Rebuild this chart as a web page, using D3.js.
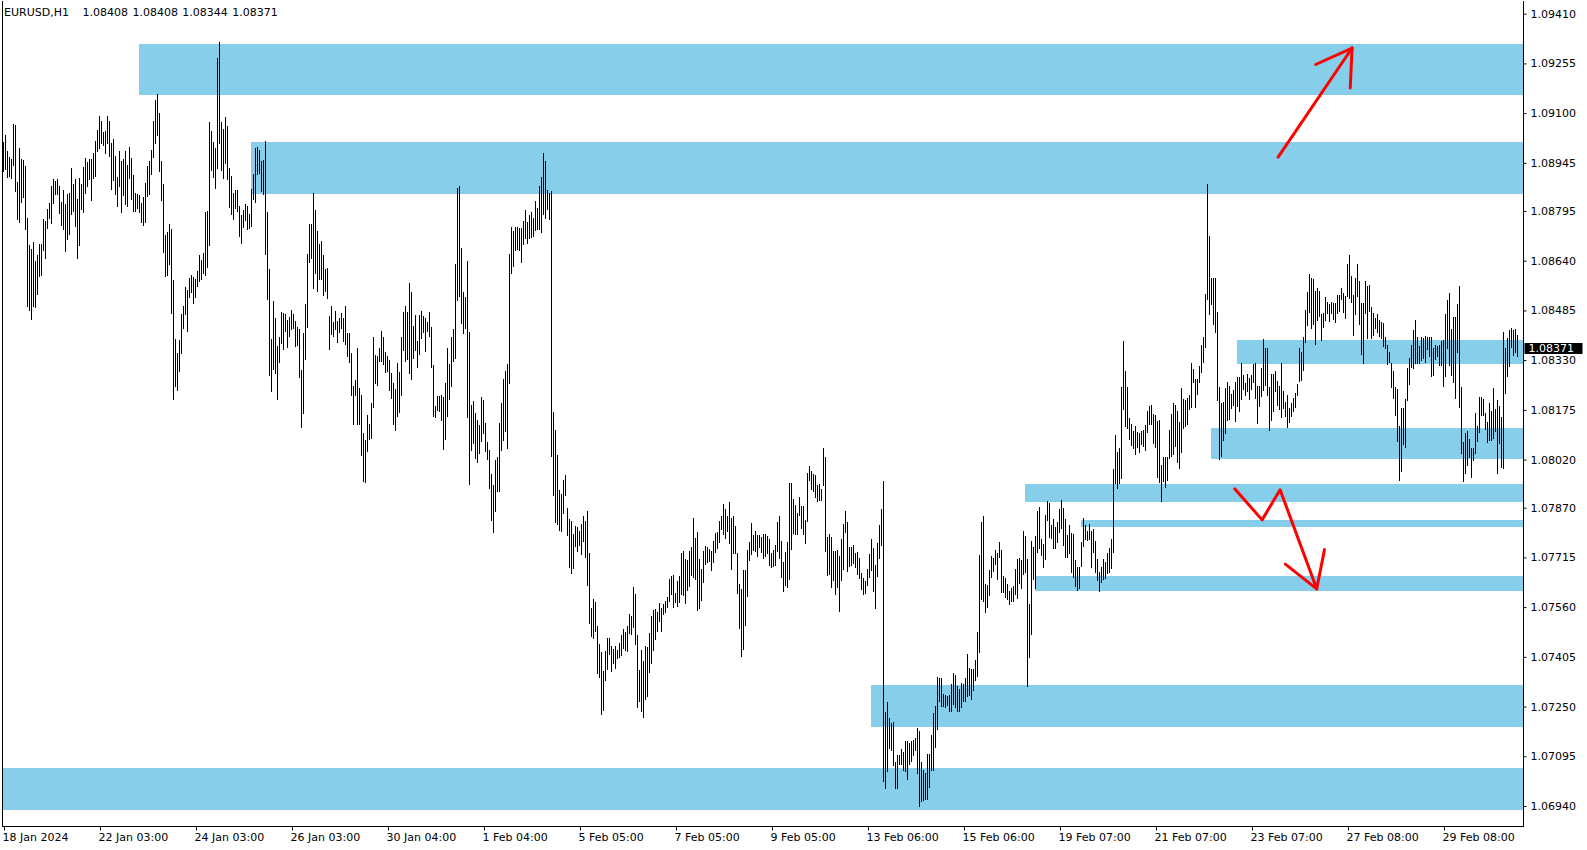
<!DOCTYPE html>
<html><head><meta charset="utf-8">
<script src="https://cdn.jsdelivr.net/npm/d3@7"></script>
<style>
html,body{margin:0;padding:0;background:#fff;}
svg{display:block;}
text{font-family:"DejaVu Sans",sans-serif;font-size:11px;fill:#000;}
</style></head><body>
<svg id="c" width="1587" height="850"></svg>
<script>
// ---------- DATA ----------
const SYMBOL = "EURUSD,H1";
const LAST_OHLC = ["1.08408", "1.08408", "1.08344", "1.08371"];
const LAST_PRICE = 1.08371;

const PRICE_TICKS = [1.09410, 1.09255, 1.09100, 1.08945, 1.08795, 1.08640, 1.08485, 1.08330,
  1.08175, 1.08020, 1.07870, 1.07715, 1.07560, 1.07405, 1.07250, 1.07095, 1.06940];

const TIME_TICK_BARS = [0, 48, 96, 144, 192, 240, 288, 336, 384, 432, 480, 528, 576, 624, 672, 720];
const TIME_TICK_LABELS = ["18 Jan 2024", "22 Jan 03:00", "24 Jan 03:00", "26 Jan 03:00", "30 Jan 04:00",
  "1 Feb 04:00", "5 Feb 05:00", "7 Feb 05:00", "9 Feb 05:00", "13 Feb 06:00", "15 Feb 06:00",
  "19 Feb 07:00", "21 Feb 07:00", "23 Feb 07:00", "27 Feb 08:00", "29 Feb 08:00"];

// Hourly bars: high / low in points, price = 1 + v / 100000
const HIGH_1 = [9007,9029,8979,8961,8957,9066,9060,8885,8991,8954,8951,8935,8773,8686,8676,8698,8639,8655,8689,8689,
 8769,8761,8801,8817,8870,8894,8888,8892,8870,8820,8860,8814,8845,8848,8926,8876,8892,8832,8895,8876,
 8929,8960,8945,8954,8954,8973,9013,9047,9088,9075,9041,9044,9091,9075,9004,9019,8966,8898,8979,8948,
 8957,8979,8938,8994,8960,8907,8851,8845,8842,8817,8838,8882,8935,8948,8982,9075,9138,9157,9100,8948,
 8879,8717,8729,8754,8736,8577,8393,8352,8390,8471,8496,8555,8546,8586];
const LOW_1 = [8921,8927,8902,8907,8899,8941,8858,8771,8762,8823,8840,8740,8500,8487,8459,8499,8497,8537,8595,8598,
 8676,8649,8743,8774,8758,8820,8848,8848,8789,8752,8740,8673,8709,8724,8787,8795,8749,8649,8690,8802,
 8792,8852,8874,8896,8830,8898,8907,8983,8992,9007,9002,8977,9007,8967,8864,8893,8851,8811,8874,8793,
 8846,8818,8811,8899,8833,8796,8798,8807,8792,8762,8752,8761,8842,8848,8911,8964,9008,9033,8921,8830,
 8668,8593,8596,8631,8478,8210,8250,8238,8297,8353,8431,8475,8422,8528];

const HIGH_2 = [8595,8589,8580,8605,8655,8642,8661,8789,8792,9072,9044,9010,8991,9269,9319,9072,9050,9085,9057,8926,
 8901,8851,8860,8860,8810,8782,8795,8814,8810,8785,8863,8910,8991,8994,8982,8948,8951,9013,8790,8612,
 8393,8514,8461,8371,8399,8477,8474,8471,8455,8464,8486,8471,8449,8433,8424,8299,8414,8502,8658,8754,
 8754,8851,8798,8732,8692,8701,8655,8614,8617,8467,8497,8446,8483,8449,8461,8474,8461,8496,8414,8414,
 8352,8249,8268,8365,8240,8221,8100,8081,8156,8128,8196,8402,8343,8340,8365];
const LOW_2 = [8543,8509,8528,8562,8578,8586,8602,8596,8621,8690,8924,8902,8868,8930,9008,8924,8899,8945,8896,8808,
 8787,8771,8805,8796,8718,8696,8746,8768,8740,8743,8749,8833,8824,8911,8914,8858,8849,8662,8522,8285,
 8235,8303,8291,8210,8325,8384,8366,8422,8372,8406,8428,8432,8375,8378,8278,8122,8166,8334,8434,8637,
 8649,8556,8603,8546,8584,8584,8534,8546,8525,8366,8412,8406,8428,8387,8419,8431,8391,8381,8344,8325,
 8222,8132,8222,8132,8132,8035,7954,7951,8048,8085,8088,8185,8260,8253,8328];

const HIGH_3 = [8418,8402,8355,8340,8330,8287,8256,8237,8318,8290,8402,8477,8496,8480,8570,8542,8436,8468,8387,8468,
 8483,8465,8461,8446,8480,8433,8312,8187,8218,8216,8219,8213,8256,8365,8315,8402,8427,8627,8864,8870,
 8677,8542,8524,8639,8415,8190,8200,8165,8143,8125,8215,8203,8134,8072,8047,7972,7939,8016,8025,8131,
 8196,8271,8296,8315,8658,8745,8730,8745,8745,8739,8739,8761,8795,8758,8782,8789,8770,8823,8804,8870,
 8898,8973,8948,8860,8848,8857,8168,8112,8034,7923,7911,7954,7969,7866,7832];
const LOW_3 = [8328,8318,8294,8297,8238,8213,8131,8113,8157,8169,8222,8362,8330,8335,8291,8272,8338,8363,8310,8350,
 8402,8419,8360,8422,8406,8310,8157,8154,8176,8173,8144,8054,8085,8157,8210,8250,8328,8338,8519,8532,
 8447,8416,8431,8154,7945,8051,8073,8026,8013,8041,8079,8105,8048,8023,7932,7833,7795,7861,7923,7923,
 8051,8082,8110,8057,8260,8603,8625,8674,8678,8674,8637,8693,8712,8696,8712,8715,8718,8737,8741,8740,
 8730,8787,8774,8802,8771,8032,7911,7826,7821,7802,7798,7855,7911,7786,7686];

const HIGH_4 = [7828,7785,7810,7807,7797,7819,7844,7828,7857,7726,7557,7585,7573,7501,7445,7417,7358,7423,7461,7461,
 7436,7429,7436,7426,7448,7470,7489,7482,7501,7538,7532,7620,7598,7470,7361,7426,7389,7436,7433,7479,
 7532,7548,7554,7542,7570,7557,7567,7577,7591,7645,7657,7660,7601,7641,7654,7726,7732,7707,7704,7732,
 7747,7835,7775,7794,7710,7676,7732,7750,7745,7741,7732,7766,7791,7794,7828,7844,7881,7863,7844,7885,
 7835,7841,7812,7726,7632,7616,7673,7673,7735,7760,7822,7782,7797,7782,7782];
const LOW_4 = [7667,7683,7752,7738,7754,7726,7767,7719,7629,7512,7473,7465,7486,7356,7343,7228,7240,7333,7368,7415,
 7362,7387,7371,7402,7405,7412,7434,7429,7426,7482,7477,7501,7446,7250,7268,7237,7218,7275,7284,7359,
 7387,7427,7462,7487,7519,7487,7540,7546,7561,7582,7601,7561,7577,7564,7577,7602,7598,7573,7616,7626,
 7663,7654,7648,7552,7558,7585,7639,7695,7701,7706,7677,7701,7732,7747,7764,7806,7791,7778,7798,7761,
 7680,7729,7729,7606,7496,7410,7430,7507,7596,7708,7726,7741,7735,7722,7748];

const HIGH_5 = [7776,7785,7785,7779,7772,7726,7735,7751,7825,7844,7766,7698,7729,7763,7944,7944,7894,7878,7853,7903,
 7875,7875,7829,7978,7997,7984,7975,7969,7938,7941,7928,8053,8028,7776,7785,7776,7732,7732,7738,7719,
 7772,7819,7857,7825,7747,7747,7751,7726,7729,7713,7666,7648,7641,7676,7723,7772,7744,7691,7757,7813,
 7863,7953,7233,7264,7214,7196,7199,7077,7096,7096,7115,7108,7140,7140,7136,7140,7143,7149,7183,7171,
 7077,7052,7040,7099,7099,7161,7227,7249,7342,7336,7336,7289,7286,7280,7283];
const LOW_5 = [7732,7716,7722,7729,7694,7688,7691,7694,7738,7716,7654,7613,7629,7623,7648,7744,7794,7791,7788,7850,
 7807,7788,7760,7829,7959,7931,7925,7906,7891,7894,7894,7941,7738,7663,7666,7623,7645,7604,7623,7551,
 7645,7679,7797,7673,7689,7694,7698,7688,7666,7651,7617,7601,7607,7629,7657,7676,7613,7560,7660,7716,
 7754,7021,6999,7052,7121,7115,7068,6999,6999,7074,7071,7055,7052,7027,7074,7083,7099,7115,7043,6940,
 6956,6959,6962,6962,7002,7053,7055,7124,7183,7270,7252,7252,7249,7255,7239];

const HIGH_6 = [7320,7352,7348,7314,7302,7322,7320,7336,7411,7370,7364,7367,7395,7482,7722,7825,7844,7629,7626,7673,
 7719,7713,7738,7726,7763,7735,7657,7648,7629,7610,7617,7623,7676,7710,7713,7704,7797,7779,7707,7567,
 7766,7747,7779,7857,7872,7772,7754,7847,7888,7882,7816,7832,7807,7825,7863,7891,7869,7832,7782,7813,
 7791,7785,7704,7682,7682,7760,7835,7816,7797,7819,7797,7803,7766,7710,7667,7683,7708,7698,7727,7744,
 7772,7988,8094,8041,8053,8246,8387,8293,8246,8147,8128,8109,8122,8103,8100];
const LOW_6 = [7239,7260,7250,7239,7239,7250,7270,7270,7286,7289,7274,7302,7333,7348,7421,7586,7580,7546,7561,7599,
 7657,7674,7695,7649,7717,7608,7608,7593,7586,7571,7580,7580,7602,7589,7636,7621,7664,7671,7315,7406,
 7478,7649,7620,7733,7745,7724,7686,7711,7832,7780,7777,7745,7745,7764,7795,7808,7755,7717,7717,7730,
 7671,7655,7627,7614,7621,7689,7752,7773,7770,7773,7686,7733,7671,7646,7611,7639,7649,7652,7667,7671,
 7683,7733,7948,7932,7948,7964,8179,8125,8119,8085,8066,8057,8038,8060,8045];

const HIGH_7 = [8106,8110,8125,8171,8187,8190,8162,8156,8140,8143,8000,8028,8028,8028,8112,8159,8196,8190,8171,8137,
 8240,8206,8203,8209,8221,8318,8302,8271,8271,8309,8377,8399,8536,8876,8714,8586,8583,8583,8480,8244,
 8194,8197,8240,8259,8249,8224,8234,8260,8277,8277,8318,8281,8257,8284,8272,8281,8315,8318,8249,8249,
 8305,8393,8365,8365,8244,8285,8285,8293,8262,8249,8320,8231,8197,8221,8179,8194,8210,8225,8253,8365,
 8353,8402,8486,8540,8596,8586,8580,8543,8552,8544,8472,8474,8525,8511,8502];
const LOW_7 = [8070,8063,8051,8107,8132,8131,8073,8060,7967,7951,7892,7954,7935,7957,8026,8032,8038,8063,8013,7995,
 8045,8119,8126,8132,8179,8185,8263,8185,8225,8263,8294,8325,8372,8522,8475,8506,8444,8419,8207,8023,
 8032,8082,8104,8144,8149,8182,8191,8143,8189,8173,8211,8241,8222,8236,8211,8242,8264,8213,8135,8189,
 8220,8238,8255,8223,8113,8144,8173,8234,8192,8179,8154,8182,8157,8124,8139,8157,8172,8185,8222,8265,
 8269,8302,8387,8442,8482,8432,8444,8381,8456,8470,8393,8434,8458,8477,8454];

const HIGH_8 = [8511,8505,8505,8533,8530,8552,8539,8527,8627,8655,8592,8530,8583,8627,8574,8505,8508,8574,8561,8564,
 8493,8474,8461,8471,8453,8446,8443,8401,8377,8353,8318,8296,8246,8237,8122,8178,8178,8207,8305,8334,
 8377,8421,8455,8402,8371,8399,8396,8405,8402,8402,8402,8365,8377,8371,8377,8387,8390,8471,8517,8539,
 8427,8464,8464,8502,8558,8246,8072,8101,8106,8084,8054,8053,8165,8123,8212,8214,8208,8165,8137,8196,
 8171,8242,8175,8203,8187,8150,8415,8365,8396,8421,8430,8421,8424,8408];
const LOW_8 = [8477,8461,8449,8480,8485,8521,8483,8464,8530,8524,8514,8411,8474,8530,8443,8352,8324,8477,8402,8486,
 8402,8409,8431,8418,8406,8402,8375,8369,8321,8325,8249,8215,8159,8078,7959,7987,8069,8060,8208,8258,
 8309,8308,8324,8322,8322,8333,8337,8327,8367,8343,8283,8285,8336,8345,8315,8317,8252,8282,8368,8316,
 8285,8263,8212,8358,8185,8042,7954,7979,8004,8029,7967,8019,8043,8079,8107,8161,8160,8117,8076,8082,
 8083,8089,8112,7979,8073,7997,7996,8229,8281,8312,8374,8346,8356,8344];

// Supply / demand zones: top price, bottom price, first bar index
const ZONE_TOP    = [1.09316, 1.09010, 1.08393, 1.08118, 1.07944, 1.07832, 1.07657, 1.07317, 1.07059];
const ZONE_BOTTOM = [1.09157, 1.08849, 1.08318, 1.08022, 1.07888, 1.07810, 1.07610, 1.07186, 1.06928];
const ZONE_START  = [68, 124, 617, 604, 511, 539, 516, 434, -1];

// Hand-drawn arrows: [bar index, price]
const ARROW_UP = [[637.3, 1.08963], [674.3, 1.09303]];
const ARROW_DOWN = [[615.6, 1.07929], [629.3, 1.07832], [638.3, 1.07926], [656.6, 1.07617]];

// ---------- CHART ----------
const HIGH = [].concat(HIGH_1, HIGH_2, HIGH_3, HIGH_4, HIGH_5, HIGH_6, HIGH_7, HIGH_8);
const LOW  = [].concat(LOW_1, LOW_2, LOW_3, LOW_4, LOW_5, LOW_6, LOW_7, LOW_8);
const bars = HIGH.map((h, i) => ({ i, high: 1 + h / 1e5, low: 1 + LOW[i] / 1e5 }));

const L = 2.5, R = 1523.5, T = 0.5, B = 826.5;
const svg = d3.select("#c");
svg.append("rect").attr("width", 1587).attr("height", 850).attr("fill", "#fff");

const x = d3.scaleLinear().domain([0, bars.length - 1]).range([3.5, 3.5 + 2 * (bars.length - 1)]);
const y = d3.scaleLinear().domain([1.06940, 1.09410]).range([806, 13.7]);

// zones
svg.append("g").selectAll("rect").data(ZONE_TOP).join("rect")
  .attr("x", (d, k) => Math.max(L, x(ZONE_START[k]) - 0.5))
  .attr("width", (d, k) => R - Math.max(L, x(ZONE_START[k]) - 0.5))
  .attr("y", d => Math.round(y(d)))
  .attr("height", (d, k) => Math.round(y(ZONE_BOTTOM[k])) - Math.round(y(d)))
  .attr("fill", "#87CEEB");

// bars
svg.append("g").attr("shape-rendering", "crispEdges").selectAll("line").data(bars).join("line")
  .attr("x1", d => x(d.i)).attr("x2", d => x(d.i))
  .attr("y1", d => Math.floor(y(d.high))).attr("y2", d => Math.ceil(y(d.low)) + 1)
  .attr("stroke", "#000").attr("stroke-width", 1);

// arrows
const line = d3.line().x(d => x(d[0])).y(d => y(d[1]));
function arrow(pts) {
  const g = svg.append("g").attr("fill", "none").attr("stroke", "#ff0000")
    .attr("stroke-width", 3).attr("stroke-linecap", "round").attr("stroke-linejoin", "round");
  g.append("path").attr("d", line(pts));
  const a = pts[pts.length - 2], b = pts[pts.length - 1];
  const bx = x(b[0]), by = y(b[1]);
  const ang = Math.atan2(y(a[1]) - by, x(a[0]) - bx);
  const len = 40, spread = 0.55;
  [ang - spread, ang + spread].forEach(t => {
    g.append("path").attr("d", `M${bx},${by}L${bx + len * Math.cos(t)},${by + len * Math.sin(t)}`);
  });
}
arrow(ARROW_UP);
arrow(ARROW_DOWN);

// frame
svg.append("path").attr("d", `M${L},${T}V${B}H${R}V${T}`)
  .attr("fill", "none").attr("stroke", "#000").attr("shape-rendering", "crispEdges");

// price axis
const yAxis = d3.axisRight(y).tickValues(PRICE_TICKS).tickFormat(d => d.toFixed(5))
  .tickSizeInner(3).tickSizeOuter(0).tickPadding(4);
const ya = svg.append("g").attr("transform", `translate(${R},0)`).call(yAxis);
ya.select(".domain").remove();
ya.selectAll("text").attr("font-family", "DejaVu Sans").attr("font-size", 11).attr("fill", "#000");
ya.selectAll("line").attr("stroke", "#000");

// time axis
const xa = svg.append("g");
xa.selectAll("line").data(TIME_TICK_BARS).join("line")
  .attr("x1", d => Math.round(x(d)) + 0.5).attr("x2", d => Math.round(x(d)) + 0.5)
  .attr("y1", B).attr("y2", B + 4).attr("stroke", "#000");
xa.selectAll("text").data(TIME_TICK_LABELS).join("text")
  .attr("x", (d, k) => x(TIME_TICK_BARS[k]) - 1).attr("y", 841).text(d => d);

// current price label
const py = y(LAST_PRICE);
svg.append("rect").attr("x", R + 1).attr("y", Math.round(py) - 4).attr("width", 58).attr("height", 11).attr("fill", "#000");
svg.append("text").attr("x", R + 5).attr("y", Math.round(py) + 1.5).attr("dominant-baseline", "middle")
  .style("fill", "#fff").text(LAST_PRICE.toFixed(5));

// header
svg.append("text").attr("x", 4).attr("y", 16).attr("xml:space", "preserve")
  .style("white-space", "pre").style("word-spacing", "1px")
  .text(SYMBOL + "   " + LAST_OHLC.join(" "));
</script>
</body></html>
